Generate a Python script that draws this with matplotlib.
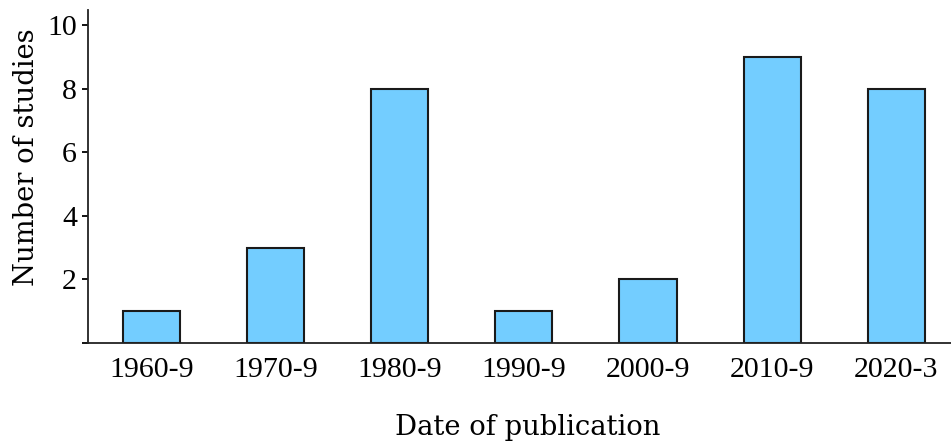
import matplotlib.pyplot as plt

# datos
periodos = ['1960-9', '1970-9', '1980-9', '1990-9', '2000-9', '2010-9', '2020-3']
n_estudios = [1, 3, 8, 1, 2, 9, 8]
yticks = [2, 4, 6, 8, 10]

plt.rcParams['font.family'] = ['Liberation Serif', 'DejaVu Serif']

fig = plt.figure(figsize=(9.51, 4.47), dpi=100)
ax = fig.add_axes([88/951, 1-343/447, 1-88/951, 333/447])

x = range(len(periodos))
ax.bar(x, n_estudios, width=0.46, color='#73CDFF', edgecolor='#1a1a1a', linewidth=1.5)

ax.set_xlim(-0.51, 6.44)
ax.set_ylim(0, 10.47)
ax.set_xticks(list(x))
ax.set_xticklabels(periodos, fontsize=21.5)
ax.set_yticks([0] + yticks)
ax.set_yticklabels([''] + [str(v) for v in yticks], fontsize=21.5)
ax.tick_params(axis='x', length=0, pad=10)
ax.tick_params(axis='y', length=4, width=1.3, pad=4)

for s in ['top', 'right']:
    ax.spines[s].set_visible(False)
for s in ['left', 'bottom']:
    ax.spines[s].set_linewidth(1.3)
    ax.spines[s].set_color('#222222')

ax.set_ylabel('Number of studies', fontsize=19.7, family='DejaVu Serif')
ax.set_xlabel('Date of publication', fontsize=19.7, family='DejaVu Serif')
ax.xaxis.set_label_coords(0.509, -0.213)
ax.yaxis.set_label_coords(-0.056, 0.557)

fig.savefig('out.png', dpi=100)
